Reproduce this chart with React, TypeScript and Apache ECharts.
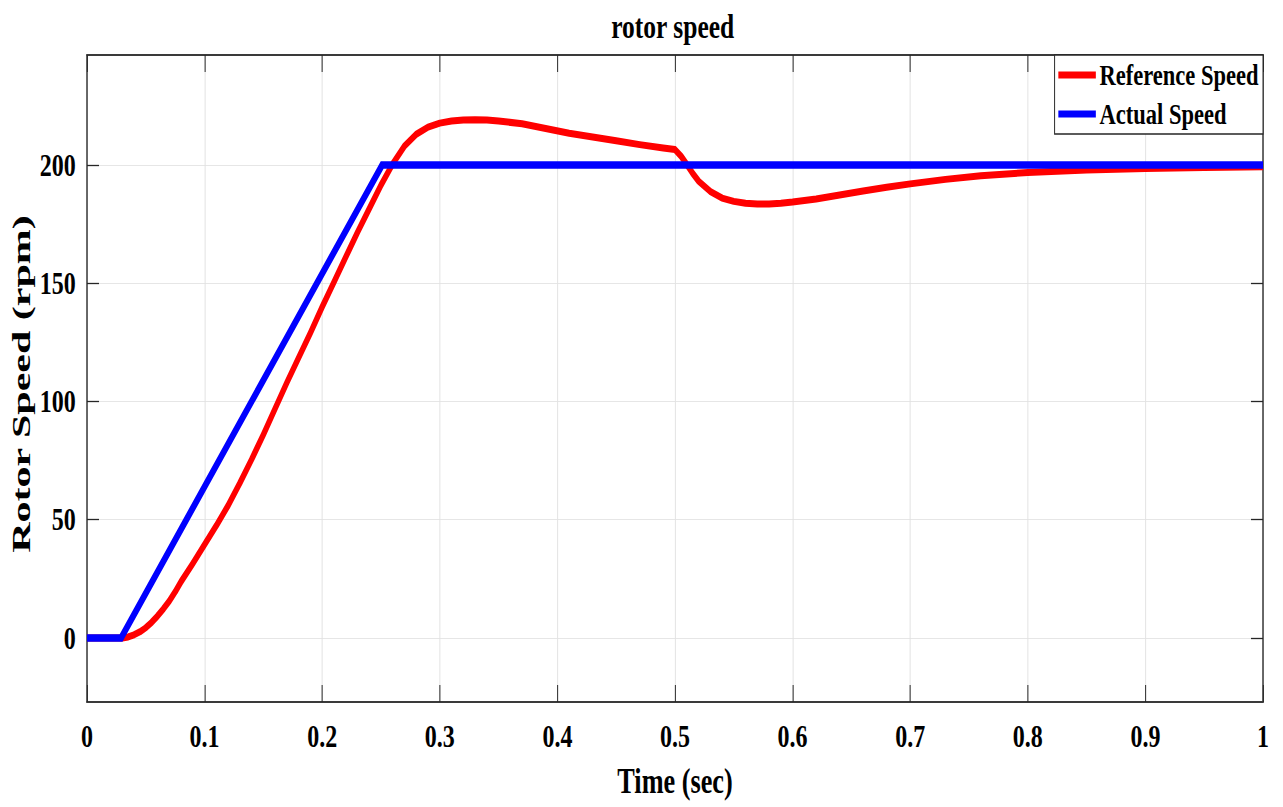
import React, { useEffect, useRef } from "react";
import * as echarts from "echarts";

// ---- data ----
const X_MIN = 0;
const X_MAX = 1;
const X_STEP = 0.1;
const Y_MIN = -27.1;
const Y_MAX = 246.5;
const Y_TICKS = [0, 50, 100, 150, 200];

const refTime = [
  0, 0.03, 0.035, 0.04, 0.045, 0.05, 0.055, 0.06, 0.065, 0.07, 0.075, 0.08, 0.09, 0.1, 0.11, 0.12,
  0.13, 0.14, 0.15, 0.16, 0.17, 0.18, 0.19, 0.2, 0.21, 0.22, 0.23, 0.24, 0.25, 0.26, 0.27, 0.28,
  0.29, 0.3, 0.31, 0.32, 0.33, 0.34, 0.35, 0.37, 0.39, 0.41, 0.43, 0.45, 0.47, 0.49, 0.5, 0.505,
  0.51, 0.515, 0.52, 0.53, 0.54, 0.55, 0.56, 0.57, 0.58, 0.59, 0.6, 0.62, 0.64, 0.66, 0.68, 0.7,
  0.73, 0.76, 0.8, 0.85, 0.9, 0.95, 1.0,
];
const refSpeed = [
  0, 0, 0.4, 1.3, 2.6, 4.3, 6.6, 9.3, 12.3, 15.6, 19.5, 23.8, 31.5, 39.5, 47.5, 56,
  65.5, 75.5, 86, 97, 108, 118.5, 129, 140, 150.5, 161, 171.5, 181.5, 191.5, 200.5, 208, 213,
  216, 217.7, 218.6, 219, 219.1, 219, 218.6, 217.4, 215.4, 213.4, 211.8, 210.2, 208.6, 207.2, 206.5, 203.8,
  200.2, 196.5, 193.2, 188.8, 186, 184.6, 183.8, 183.5, 183.5, 183.8, 184.3, 185.6, 187.3, 189, 190.6, 192,
  193.9, 195.4, 196.8, 197.9, 198.5, 198.9, 199.2,
];

const actTime = [0, 0.029, 0.251, 1.0];
const actSpeed = [0, 0, 200, 200];

const TITLE = "rotor speed";
const X_NAME = "Time (sec)";
const Y_NAME = "Rotor Speed (rpm)";
const SERIES_NAMES = ["Reference Speed", "Actual Speed"];
const COLORS = ["#ff0000", "#0000ff"];

// ---- layout ----
const SX = 0.75; // horizontal compression of the reference picture
const OUT_W = 1283;
const OUT_H = 807;
const IN_W = 1711;
const FONT = "'Liberation Serif', 'Times New Roman', serif";
const AXIS_COLOR = "#3a3a3a";
const GRID_COLOR = "#e2e2e2";

export default function App() {
  const ref = useRef<HTMLDivElement>(null);

  useEffect(() => {
    if (!ref.current) return;
    const chart = echarts.init(ref.current, undefined, { renderer: "svg" });

    const refData = refTime.map((t, i) => [t, refSpeed[i]]);
    const actData = actTime.map((t, i) => [t, actSpeed[i]]);

    const tickStyle = { color: "#262626", width: 1.3 };
    const lineStyle = { color: AXIS_COLOR, width: 2 };
    const labelStyle = {
      fontFamily: FONT,
      fontWeight: "bold" as const,
      fontSize: 32,
      color: "#000",
    };

    chart.setOption({
      animation: false,
      backgroundColor: "#ffffff",
      title: {
        text: TITLE,
        left: 815,
        top: 10,
        padding: 0,
        textStyle: { fontFamily: FONT, fontWeight: "bold", fontSize: 34, color: "#000" },
      },
      graphic: [
        {
          type: "text",
          x: 29,
          y: 384,
          rotation: Math.PI / 2,
          scaleY: 0.8,
          style: {
            text: Y_NAME,
            fontFamily: FONT,
            fontWeight: "bold",
            fontSize: 42,
            fill: "#000",
            textAlign: "center",
            textVerticalAlign: "middle",
          },
        },
      ],
      legend: {
        orient: "vertical",
        right: 27,
        top: 55,
        padding: [5, 6, 5, 5],
        itemGap: 9,
        itemWidth: 50,
        itemHeight: 7,
        icon: "rect",
        backgroundColor: "#ffffff",
        borderColor: "#262626",
        borderWidth: 1.3,
        borderRadius: 0,
        textStyle: { fontFamily: FONT, fontWeight: "bold", fontSize: 30, color: "#000" },
        data: SERIES_NAMES,
      },
      grid: {
        left: 116,
        right: 27,
        top: 55,
        bottom: 105,
        show: false,
        containLabel: false,
        outerBoundsMode: "none",
      },
      xAxis: [
        {
          type: "value",
          min: X_MIN,
          max: X_MAX,
          interval: X_STEP,
          position: "bottom",
          name: X_NAME,
          nameLocation: "middle",
          nameGap: 62,
          nameMoveOverlap: false,
          nameTextStyle: { fontFamily: FONT, fontWeight: "bold", fontSize: 35, color: "#000" },
          axisLine: { show: true, onZero: false, lineStyle },
          axisTick: { show: true, inside: true, length: 17, lineStyle: tickStyle },
          axisLabel: { margin: 18, ...labelStyle },
          splitLine: { show: true, lineStyle: { color: GRID_COLOR, width: 1.3 } },
        },
        {
          type: "value",
          min: X_MIN,
          max: X_MAX,
          interval: X_STEP,
          position: "top",
          axisLine: { show: true, onZero: false, lineStyle },
          axisTick: { show: true, inside: true, length: 17, lineStyle: tickStyle },
          axisLabel: { show: false },
          splitLine: { show: false },
        },
      ],
      yAxis: [
        {
          type: "value",
          min: Y_MIN,
          max: Y_MAX,
          position: "left",
          axisLine: { show: true, onZero: false, lineStyle },
          axisTick: {
            show: true,
            inside: true,
            length: 16,
            customValues: Y_TICKS,
            lineStyle: tickStyle,
          },
          axisLabel: { margin: 15, customValues: Y_TICKS, ...labelStyle },
          splitLine: { show: true, lineStyle: { color: GRID_COLOR, width: 1 } },
        },
        {
          type: "value",
          min: Y_MIN,
          max: Y_MAX,
          position: "right",
          axisLine: { show: true, onZero: false, lineStyle },
          axisTick: {
            show: true,
            inside: true,
            length: 16,
            customValues: Y_TICKS,
            lineStyle: tickStyle,
          },
          axisLabel: { show: false, customValues: Y_TICKS },
          splitLine: { show: false },
        },
      ],
      series: [
        {
          name: SERIES_NAMES[0],
          type: "line",
          xAxisIndex: 0,
          yAxisIndex: 0,
          data: refData,
          showSymbol: false,
          symbol: "none",
          lineStyle: { color: COLORS[0], width: 7, join: "round" },
          itemStyle: { color: COLORS[0] },
          z: 2,
        },
        {
          name: SERIES_NAMES[1],
          type: "line",
          xAxisIndex: 0,
          yAxisIndex: 0,
          data: actData,
          showSymbol: false,
          symbol: "none",
          lineStyle: { color: COLORS[1], width: 7.5, join: "miter" },
          itemStyle: { color: COLORS[1] },
          z: 3,
        },
      ],
    });

    return () => chart.dispose();
  }, []);

  return (
    <div
      style={{
        position: "absolute",
        left: 0,
        top: 0,
        width: OUT_W,
        height: OUT_H,
        overflow: "hidden",
        background: "#fff",
      }}
    >
      <div
        ref={ref}
        style={{
          width: IN_W,
          height: OUT_H,
          transform: `scaleX(${SX})`,
          transformOrigin: "0 0",
        }}
      />
    </div>
  );
}
